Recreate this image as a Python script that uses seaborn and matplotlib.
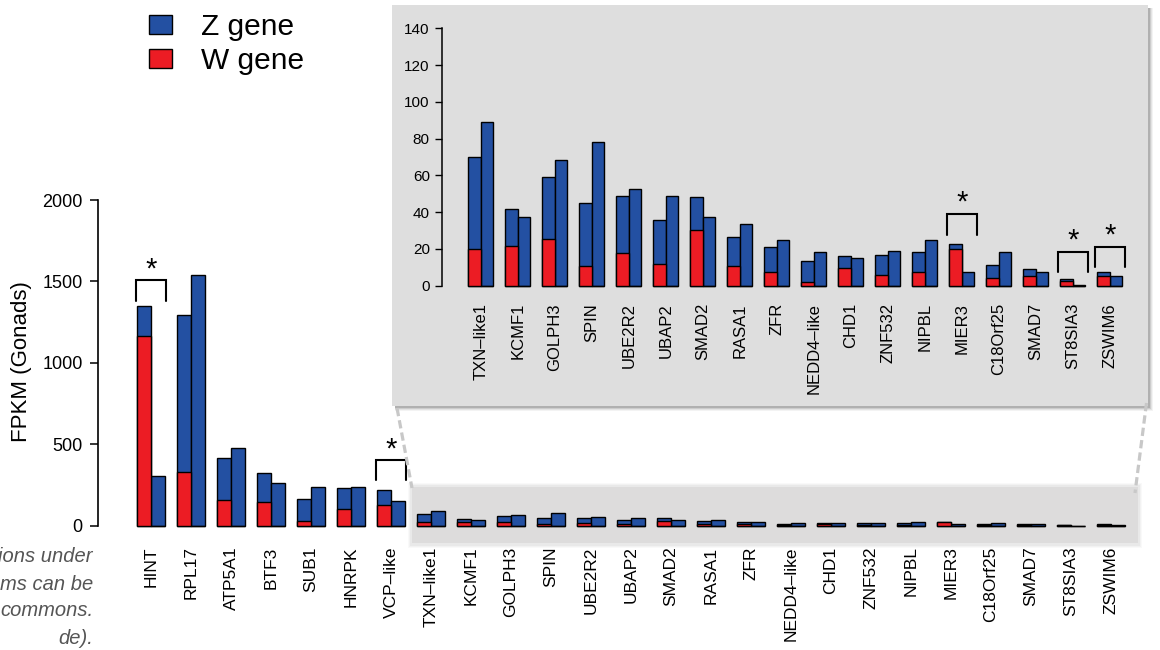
import matplotlib
matplotlib.use("Agg")
import matplotlib.pyplot as plt
import matplotlib.patches as mpatches
from matplotlib.lines import Line2D
import numpy as np
import pandas as pd
import seaborn as sns

# ---------------- data ----------------
genes_top = ["HINT", "RPL17", "ATP5A1", "BTF3", "SUB1", "HNRPK", "VCP–like"]
genes_low = ["TXN–like1", "KCMF1", "GOLPH3", "SPIN", "UBE2R2", "UBAP2", "SMAD2",
             "RASA1", "ZFR", "NEDD4–like", "CHD1", "ZNF532", "NIPBL", "MIER3",
             "C18Orf25", "SMAD7", "ST8SIA3", "ZSWIM6"]

# left bar of each pair: W gene (red) + Z gene (blue) stacked
w_left_top = [1167, 332, 156, 144, 27, 101, 129]
z_left_top = [182, 964, 258, 180, 135, 129, 88]
# right bar of each pair: Z gene only
z_right_top = [303, 1538, 477, 262, 236, 236, 150]

w_left_low = [19.8, 21.8, 25.2, 10.7, 17.6, 12.0, 30.3, 10.7, 7.6, 1.8, 9.4, 5.6,
              7.3, 20.1, 4.0, 5.1, 2.7, 5.1]
z_left_low = [50.2, 19.9, 34.1, 34.1, 31.2, 23.5, 17.9, 16.0, 13.3, 11.4, 6.9, 11.1,
              10.8, 2.8, 7.4, 4.0, 0.9, 2.3]
z_right_low = [88.9, 37.2, 68.4, 78.0, 52.6, 49.0, 37.2, 33.7, 25.0, 18.5, 14.9, 19.0,
               25.0, 7.6, 18.1, 7.4, 0.5, 5.1]

legend_labels = ["Z gene", "W gene"]
y_label = "FPKM (Gonads)"
main_yticks = [0, 500, 1000, 1500, 2000]
inset_yticks = [0, 20, 40, 60, 80, 100, 120, 140]
side_note = ["ions under", "ms can be", "commons.", "de)."]

BLUE = "#2350a2"
RED = "#ec1c24"

sns.set_style("ticks")
plt.rcParams["font.family"] = ["Liberation Sans", "DejaVu Sans"]
plt.rcParams.update({"text.color": "black", "axes.labelcolor": "black",
                     "xtick.color": "black", "ytick.color": "black",
                     "axes.edgecolor": "black"})


def make_df(genes, wl, zl, zr):
    rows = []
    for g, w, z, zz in zip(genes, wl, zl, zr):
        rows.append({"gene": g, "pair": "L", "total": w + z, "W": w})
        rows.append({"gene": g, "pair": "R", "total": zz, "W": 0.0})
    return pd.DataFrame(rows)


genes_all = genes_top + genes_low
df_main = make_df(genes_all, w_left_top + w_left_low, z_left_top + z_left_low,
                  z_right_top + z_right_low)
df_inset = make_df(genes_low, w_left_low, z_left_low, z_right_low)

W, H = 1160, 650
fig = plt.figure(figsize=(W / 100, H / 100), dpi=100)


def fx(x):
    return x / W


def fy(y):
    return 1 - y / H


def frect(x0, y0, x1, y1, **kw):
    r = mpatches.Rectangle((fx(x0), fy(y1)), fx(x1) - fx(x0), fy(y0) - fy(y1),
                           transform=fig.transFigure, **kw)
    fig.patches.append(r)
    return r


# ---------- grey band behind the small bars of the main chart ----------
for k, a in enumerate([0.05, 0.07, 0.1]):
    d = 4 - k
    frect(411.7 - d, 487 - d, 1138 + d, 543 + d + 1, facecolor="#9a9a9a",
          edgecolor="none", alpha=a, zorder=-2)
frect(411.7, 487, 1138, 543, facecolor="#dddcdc", edgecolor="none", zorder=-1)

# ---------------- main axes ----------------
ax = fig.add_axes([fx(98), fy(545), fx(1150) - fx(98), fy(195) - fy(545)])
ax.set_facecolor("none")
ax.set_zorder(0)

bar_kw = dict(order=genes_all, hue="pair", hue_order=["L", "R"], width=0.69,
              edgecolor="black", linewidth=1.0, saturation=1, errorbar=None,
              legend=False, gap=0)
sns.barplot(data=df_main, x="gene", y="total", palette={"L": BLUE, "R": BLUE},
            ax=ax, **bar_kw)
sns.barplot(data=df_main, x="gene", y="W", palette={"L": RED, "R": RED},
            ax=ax, **bar_kw)


def px2main_y(p):
    return (525.7 - p) / 325.7 * 2000


ax.set_xlim((98 - 151) / 40, (1150 - 151) / 40)
ax.set_ylim(px2main_y(545), px2main_y(195))
ax.set_yticks(main_yticks)
ax.set_yticklabels([str(v) for v in main_yticks], fontsize=13)
ax.set_xticks(range(len(genes_all)))
ax.set_xticklabels(genes_all, rotation=90, fontsize=12.5)
ax.tick_params(axis="x", length=0, pad=1)
ax.tick_params(axis="y", length=6, width=1.1, pad=5, direction="out")
for s in ["top", "right", "bottom"]:
    ax.spines[s].set_visible(False)
ax.spines["left"].set_bounds(0, 2000)
ax.spines["left"].set_linewidth(1.2)
ax.set_xlabel("")
ax.set_ylabel(y_label, fontsize=16)
ax.yaxis.set_label_coords((32 - 98) / 1052, (545 - 362) / 350)


def bracket(axis, i, half, leg, top, star, fs=21):
    axis.plot([i - half, i - half, i + half, i + half], [leg, top, top, leg],
              color="black", lw=1.5, solid_joinstyle="miter", clip_on=False, zorder=5)
    axis.text(i, star, "*", ha="center", va="center", fontsize=fs, clip_on=False)


bracket(ax, 0, 0.38, 1382, 1509, 1575)
bracket(ax, 6, 0.38, 281, 403, 468)

# ---------------- inset box ----------------
for k, a in enumerate([0.08, 0.12, 0.2, 0.3]):
    d = 5 - k
    frect(392 + 3, 5 + 3, 1148 + d, 406 + d, facecolor="#707070", edgecolor="none",
          alpha=a, zorder=0.5)
frect(392, 5, 1148, 406, facecolor="#dedede", edgecolor="none", zorder=1)

# dashed connector lines
for (x0, y0, x1, y1) in [(397, 408, 412, 488), (1146.5, 403, 1135, 493)]:
    fig.lines.append(Line2D([fx(x0), fx(x1)], [fy(y0), fy(y1)], transform=fig.transFigure,
                            color="#c8c8c8", lw=2.3, dashes=(2.6, 1.3), zorder=1.5))

ins = fig.add_axes([fx(442.3), fy(292), fx(1140) - fx(442.3), fy(20) - fy(292)])
ins.set_facecolor("none")
ins.set_zorder(2)
bar_kw_i = dict(bar_kw)
bar_kw_i["order"] = genes_low
bar_kw_i["width"] = 0.676
sns.barplot(data=df_inset, x="gene", y="total", palette={"L": BLUE, "R": BLUE},
            ax=ins, **bar_kw_i)
sns.barplot(data=df_inset, x="gene", y="W", palette={"L": RED, "R": RED},
            ax=ins, **bar_kw_i)


def px2ins_y(p):
    return (285.7 - p) / (257.4 / 140)


ins.set_xlim((442.3 - 480.8) / 37, (1140 - 480.8) / 37)
ins.set_ylim(px2ins_y(292), px2ins_y(20))
ins.set_yticks(inset_yticks)
ins.set_yticklabels([str(v) for v in inset_yticks], fontsize=11)
ins.set_xticks(range(len(genes_low)))
ins.set_xticklabels(genes_low, rotation=90, fontsize=12)
ins.tick_params(axis="x", length=0, pad=8)
ins.tick_params(axis="y", length=5, width=1.0, pad=4, direction="out")
for s in ["top", "right", "bottom"]:
    ins.spines[s].set_visible(False)
ins.spines["left"].set_bounds(0, 140)
ins.spines["left"].set_linewidth(1.1)
ins.set_xlabel("")
ins.set_ylabel("")

bracket(ins, 13, 0.41, 27.6, 38.8, 45.0)
bracket(ins, 16, 0.405, 7.3, 18.3, 24.6)
bracket(ins, 17, 0.41, 10.3, 21.0, 27.5)

# ---------------- legend ----------------
handles = [mpatches.Patch(facecolor=BLUE, edgecolor="black", lw=1.0, label=legend_labels[0]),
           mpatches.Patch(facecolor=RED, edgecolor="black", lw=1.0, label=legend_labels[1])]
fig.legend(handles=handles, loc="upper left", bbox_to_anchor=(fx(149), fy(13)),
           frameon=False, fontsize=21.5, handlelength=0.78, handleheight=0.6,
           handletextpad=0.95, labelspacing=0.2, borderpad=0, borderaxespad=0)

# ---------------- cut-off side note ----------------
for j, t in enumerate(side_note):
    fig.text(fx(93), fy(557 + 27 * j), t, ha="right", va="center", style="italic",
             color="#555555", fontsize=14.5)

fig.savefig("out.png", dpi=100)
